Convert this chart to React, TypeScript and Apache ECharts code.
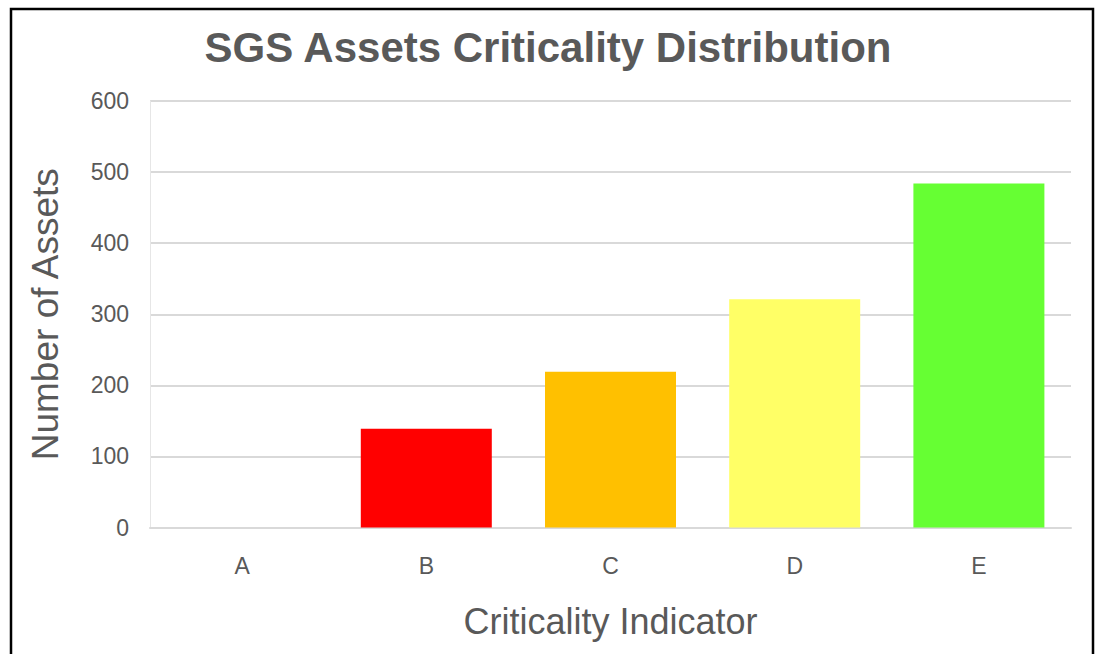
import React, { useEffect, useRef } from "react";
import * as echarts from "echarts";

const titleText = "SGS Assets Criticality Distribution";
const categories = ["A", "B", "C", "D", "E"];
const assetCounts = [0, 139, 219, 321, 484];
const barColors = ["#FF0000", "#FF0000", "#FFC000", "#FFFF66", "#66FF33"];
const yTicks = { min: 0, max: 600, interval: 100 };
const xAxisName = "Criticality Indicator";
const yAxisName = "Number of Assets";

export default function App() {
  const ref = useRef<HTMLDivElement>(null);
  useEffect(() => {
    document.body.style.margin = "0";
    document.body.style.overflow = "hidden";
    const chart = echarts.init(ref.current!, null, { renderer: "svg" });
    const font = "'Liberation Sans', Arial, sans-serif";
    chart.setOption({
      animation: false,
      backgroundColor: "#ffffff",
      title: {
        text: titleText,
        left: "center",
        top: 26,
        padding: [0, 0, 0, 8],
        textStyle: { fontFamily: font, fontSize: 42, fontWeight: "bold", color: "#595959" },
      },
      graphic: [
        {
          type: "rect",
          shape: { x: 11, y: 9, width: 1082, height: 700 },
          style: { fill: "none", stroke: "#000", lineWidth: 2.5 },
          silent: true,
        },
      ],
      grid: { left: 150, right: 25, top: 101, bottom: 126.5, containLabel: false },
      xAxis: {
        type: "category",
        data: categories,
        name: xAxisName,
        nameLocation: "middle",
        nameGap: 76,
        nameTextStyle: { fontFamily: font, fontSize: 36, color: "#595959" },
        axisLine: { show: true, lineStyle: { color: "#d9d9d9", width: 2 } },
        axisTick: { show: false },
        axisLabel: { fontFamily: font, fontSize: 23, color: "#595959", margin: 27 },
      },
      yAxis: {
        type: "value",
        min: yTicks.min,
        max: yTicks.max,
        interval: yTicks.interval,
        name: yAxisName,
        nameLocation: "middle",
        nameGap: 86,
        nameTextStyle: { fontFamily: font, fontSize: 37, color: "#595959" },
        axisLine: { show: true, lineStyle: { color: "#e6e6e6", width: 1 } },
        axisTick: { show: false },
        axisLabel: { fontFamily: font, fontSize: 23, color: "#595959", margin: 21 },
        splitLine: { show: true, lineStyle: { color: "#d9d9d9", width: 2 } },
      },
      series: [
        {
          type: "bar",
          data: assetCounts.map((v, i) => ({ value: v, itemStyle: { color: barColors[i] } })),
          barWidth: 131,
        },
      ],
    });
    return () => chart.dispose();
  }, []);
  return <div ref={ref} style={{ width: 1096, height: 654 }} />;
}
